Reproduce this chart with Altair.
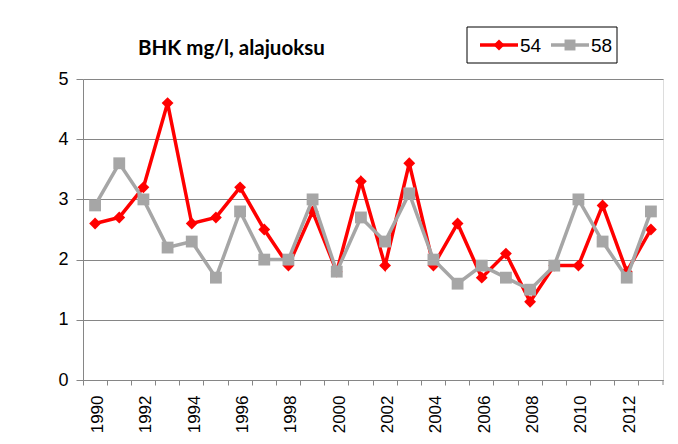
import altair as alt
import pandas as pd

years = [str(y) for y in range(1990, 2014)]
s54 = [2.6, 2.7, 3.2, 4.6, 2.6, 2.7, 3.2, 2.5, 1.9, 2.8, 1.8, 3.3, 1.9, 3.6,
       1.9, 2.6, 1.7, 2.1, 1.3, 1.9, 1.9, 2.9, 1.8, 2.5]
s58 = [2.9, 3.6, 3.0, 2.2, 2.3, 1.7, 2.8, 2.0, 2.0, 3.0, 1.8, 2.7, 2.3, 3.1,
       2.0, 1.6, 1.9, 1.7, 1.5, 1.9, 3.0, 2.3, 1.7, 2.8]
series_names = ["54", "58"]
series_colors = ["#FF0000", "#A6A6A6"]
series_shapes = ["diamond", "square"]
title_text = "BHK mg/l, alajuoksu"
y_ticks = [0, 1, 2, 3, 4, 5]

df = pd.DataFrame({
    "year": years * 2,
    "value": s54 + s58,
    "series": [series_names[0]] * len(years) + [series_names[1]] * len(years),
})

FONT = "Liberation Sans"
AXIS_GRAY = "#868686"

x_enc = alt.X(
    "year:O",
    bandPosition=0.5,
    scale=alt.Scale(type="band", paddingInner=0, paddingOuter=0),
    axis=alt.Axis(
        title=None, bandPosition=0, labelAngle=270, labelOffset=3,
        labelBaseline="middle", labelAlign="right",
        labelExpr="toNumber(datum.value) % 2 == 0 ? datum.label : ''",
        tickSize=5, tickColor=AXIS_GRAY, domainColor=AXIS_GRAY,
        labelFont=FONT, labelFontSize=17, labelColor="black", labelPadding=10,
        grid=False,
    ),
)
y_enc = alt.Y(
    "value:Q",
    scale=alt.Scale(domain=[0, 5], nice=False),
    axis=alt.Axis(
        title=None, values=y_ticks, tickSize=7, tickColor=AXIS_GRAY,
        domainColor=AXIS_GRAY, gridColor=AXIS_GRAY, grid=True,
        labelFont=FONT, labelFontSize=18, labelColor="black", labelPadding=8,
    ),
)
color_enc = alt.Color("series:N", scale=alt.Scale(domain=series_names, range=series_colors), legend=None)
shape_enc = alt.Shape("series:N", scale=alt.Scale(domain=series_names, range=series_shapes), legend=None)

layers = []
for name in series_names:
    sub = alt.Chart(df).transform_filter(alt.datum.series == name)
    layers.append(sub.mark_line(strokeWidth=3.5).encode(x=x_enc, y=y_enc, color=color_enc))
    layers.append(sub.mark_point(filled=True, opacity=1, size=140).encode(
        x=x_enc, y=y_enc, color=color_enc, shape=shape_enc))

# closing tick at the right end of the category axis
end_tick = alt.Chart(pd.DataFrame({"k": [0]})).mark_rule(color=AXIS_GRAY, strokeWidth=1).encode(
    x=alt.value(580), y=alt.value(301), y2=alt.value(306))

title = alt.Chart(pd.DataFrame({"t": [title_text]})).mark_text(
    font="Lato", fontSize=20.5, fontWeight="bold", align="left", baseline="alphabetic", color="black"
).encode(text="t:N", x=alt.value(55), y=alt.value(-24))

leg_df = pd.DataFrame({"name": series_names})
legend_box = alt.Chart(leg_df.head(1)).mark_rect(fill="white", stroke="black", strokeWidth=1).encode(
    x=alt.value(384), x2=alt.value(534), y=alt.value(-52), y2=alt.value(-16))
leg_items = []
for i, name in enumerate(series_names):
    x0 = 397 + i * 71
    one = alt.Chart(pd.DataFrame({"name": [name]}))
    leg_items.append(one.mark_rule(color=series_colors[i], strokeWidth=3.5).encode(
        x=alt.value(x0), x2=alt.value(x0 + 38), y=alt.value(-34)))
    leg_items.append(one.mark_point(filled=True, opacity=1, size=120, shape=series_shapes[i],
                                    color=series_colors[i]).encode(
        x=alt.value(x0 + 19), y=alt.value(-34)))
    leg_items.append(one.mark_text(font=FONT, fontSize=19, align="left", baseline="middle",
                                   color="black").encode(
        text="name:N", x=alt.value(x0 + 40), y=alt.value(-33)))

chart = alt.layer(*layers, end_tick, title, legend_box, *leg_items).properties(
    width=580, height=301,
    autosize=alt.AutoSizeParams(type="none"),
    padding={"left": 75, "top": 71, "right": 7, "bottom": 56},
).configure_view(stroke=None).configure(background="white")

chart.save("out.html", embed_options={"renderer": "svg", "actions": False})
